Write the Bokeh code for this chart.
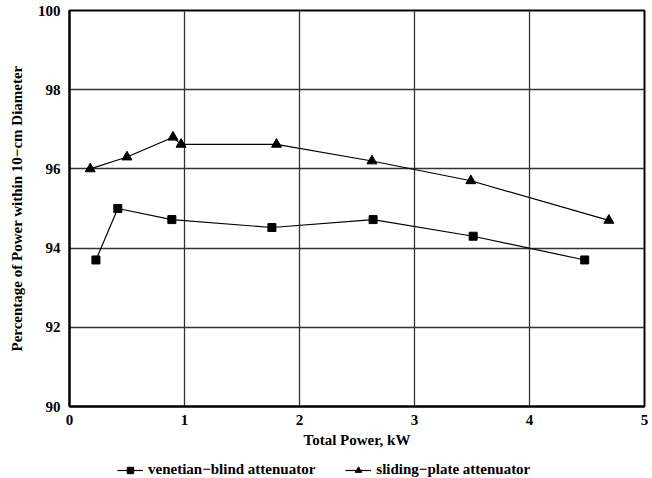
from bokeh.plotting import figure
from bokeh.models import Legend, LegendItem, Range1d, FixedTicker
from bokeh.layouts import column
from bokeh.embed import file_html
from bokeh.resources import INLINE

venetian_x = [0.23, 0.42, 0.89, 1.76, 2.64, 3.51, 4.48]
venetian_y = [93.7, 95.0, 94.72, 94.52, 94.72, 94.3, 93.7]
sliding_x = [0.18, 0.5, 0.9, 0.97, 1.8, 2.63, 3.49, 4.69]
sliding_y = [96.0, 96.3, 96.8, 96.62, 96.62, 96.2, 95.7, 94.7]
x_ticks = [0, 1, 2, 3, 4, 5]
y_ticks = [90, 92, 94, 96, 98, 100]
series_labels = ["venetian\u2212blind attenuator", "sliding\u2212plate attenuator"]

FONT = "Liberation Serif"

p = figure(width=652, height=456, output_backend="svg", toolbar_location=None,
           x_range=Range1d(0, 5), y_range=Range1d(90, 100),
           min_border_left=69, min_border_right=8, min_border_top=10, min_border_bottom=50)
p.background_fill_color = "white"
p.border_fill_color = "white"
p.outline_line_color = "black"
p.outline_line_width = 2

for ax in (p.xaxis[0], p.yaxis[0]):
    ax.major_label_text_font = FONT
    ax.major_label_text_font_style = "bold"
    ax.major_label_text_font_size = "15px"
    ax.major_label_text_color = "black"
    ax.axis_label_text_font = FONT
    ax.axis_label_text_font_style = "bold"
    ax.axis_label_text_color = "black"
    ax.major_tick_in = 0
    ax.major_tick_out = 0
    ax.minor_tick_in = 0
    ax.minor_tick_out = 0
    ax.axis_line_color = "black"
    ax.axis_line_width = 2

p.xaxis.ticker = FixedTicker(ticks=x_ticks)
p.yaxis.ticker = FixedTicker(ticks=y_ticks)
p.xaxis.axis_label = "Total Power, kW"
p.yaxis.axis_label = "Percentage of Power within 10\u2212cm Diameter"
p.xaxis.axis_label_text_font_size = "15px"
p.yaxis.axis_label_text_font_size = "15px"
p.xaxis.major_label_standoff = 8
p.xaxis.axis_label_standoff = 4
p.yaxis.major_label_standoff = 9
p.yaxis.axis_label_standoff = 10

p.xgrid.ticker = FixedTicker(ticks=x_ticks)
p.ygrid.ticker = FixedTicker(ticks=y_ticks)
p.grid.grid_line_color = "#333333"
p.grid.grid_line_width = 1.3

p.line(venetian_x, venetian_y, line_color="black", line_width=1.2)
p.scatter(venetian_x, venetian_y, marker="square", size=8, fill_color="black", line_color="black")
p.line(sliding_x, sliding_y, line_color="black", line_width=1.2)
p.scatter(sliding_x, sliding_y, marker="triangle", size=10, fill_color="black", line_color="black")

# legend strip: same series drawn out of view, only the legend is visible
p2 = figure(width=652, height=22, output_backend="svg", toolbar_location=None,
            x_range=Range1d(100, 101), y_range=Range1d(0, 1),
            min_border_left=0, min_border_right=0, min_border_top=0, min_border_bottom=0)
p2.axis.visible = False
p2.grid.visible = False
p2.outline_line_color = None
p2.background_fill_color = "white"
p2.border_fill_color = "white"
l1 = p2.line(venetian_x, venetian_y, line_color="black", line_width=1.2)
m1 = p2.scatter(venetian_x, venetian_y, marker="square", size=7, fill_color="black", line_color="black")
l2 = p2.line(sliding_x, sliding_y, line_color="black", line_width=1.2)
m2 = p2.scatter(sliding_x, sliding_y, marker="triangle", size=9, fill_color="black", line_color="black")

legend = Legend(items=[
    LegendItem(label=series_labels[0], renderers=[l1, m1]),
    LegendItem(label=series_labels[1], renderers=[l2, m2]),
], orientation="horizontal", location=(48, 0))
legend.label_text_font = FONT
legend.label_text_font_style = "bold"
legend.label_text_font_size = "15px"
legend.label_text_color = "black"
legend.border_line_color = None
legend.background_fill_alpha = 0
legend.glyph_width = 26
legend.glyph_height = 16
legend.label_height = 16
legend.label_standoff = 5
legend.spacing = 30
legend.padding = 2
legend.margin = 0
p2.add_layout(legend, "center")

layout = column(p, p2, spacing=0)
open("out.html", "w").write(file_html(layout, INLINE))
